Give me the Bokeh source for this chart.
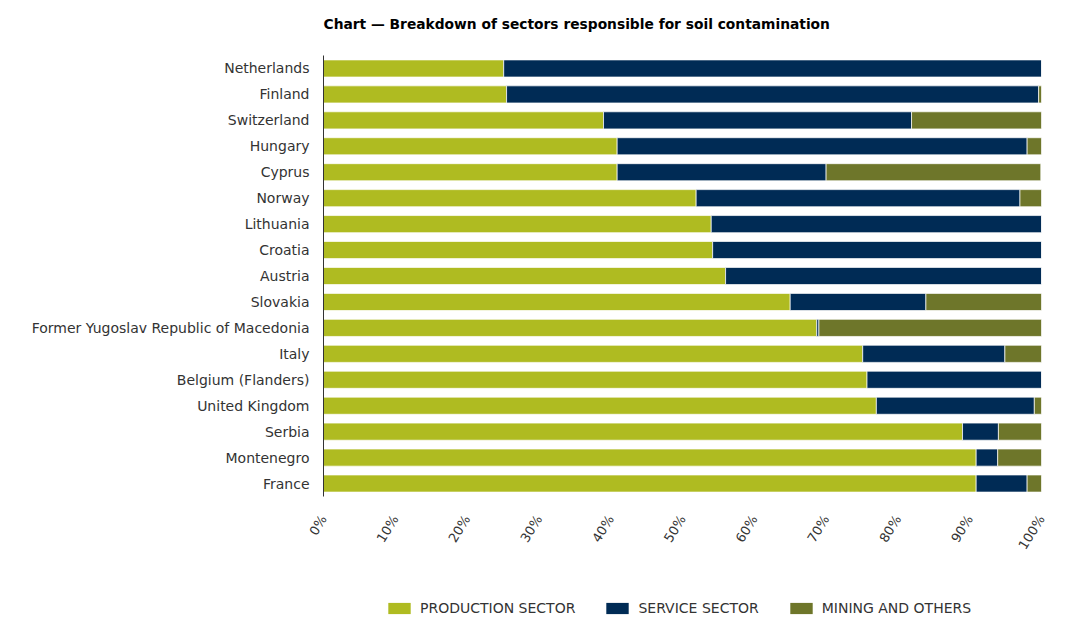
from bokeh.plotting import figure
from bokeh.models import FactorRange, Range1d, FixedTicker, Legend, LegendItem
from bokeh.layouts import column
from bokeh.embed import file_html
from bokeh.resources import INLINE
import math

countries = ["Netherlands", "Finland", "Switzerland", "Hungary", "Cyprus", "Norway",
             "Lithuania", "Croatia", "Austria", "Slovakia",
             "Former Yugoslav Republic of Macedonia", "Italy", "Belgium (Flanders)",
             "United Kingdom", "Serbia", "Montenegro", "France"]
production = [25.1, 25.5, 39.0, 40.9, 40.9, 51.9, 54.0, 54.2, 56.0, 65.0, 68.7, 75.1, 75.7, 77.0, 89.0, 90.9, 90.9]
service = [74.9, 74.1, 42.9, 57.1, 29.1, 45.1, 46.0, 45.8, 44.0, 18.9, 0.3, 19.8, 24.3, 22.0, 5.0, 3.0, 7.1]
mining = [0.0, 0.4, 18.1, 2.0, 29.9, 3.0, 0.0, 0.0, 0.0, 16.1, 31.1, 5.1, 0.0, 1.0, 6.0, 6.2, 2.0]
series_names = ["PRODUCTION SECTOR", "SERVICE SECTOR", "MINING AND OTHERS"]
colors = ["#afbb21", "#002b55", "#6e762a"]
ticks = [0, 10, 20, 30, 40, 50, 60, 70, 80, 90, 100]
tick_labels = [f"{t}%" for t in ticks]
title_text = "Chart \u2014 Breakdown of sectors responsible for soil contamination"

data = dict(country=countries, production=production, service=service, mining=mining)
stack_cols = ["production", "service", "mining"]

FONT = "DejaVu Sans"

# Header: carries only the title
hd = figure(width=1068, height=55, output_backend="svg", toolbar_location=None,
            x_axis_location=None, y_axis_location=None, min_border=0,
            x_range=Range1d(0, 1), y_range=Range1d(0, 1))
hd.outline_line_color = None
hd.xgrid.grid_line_color = None
hd.ygrid.grid_line_color = None
hd.title.text = title_text
hd.title.text_font = FONT
hd.title.text_font_size = "13.8px"
hd.title.text_font_style = "bold"
hd.title.text_color = "#000000"
hd.title.align = "left"
hd.title.standoff = 26

p = figure(width=1068, height=504, output_backend="svg", toolbar_location=None, title=None,
           y_range=FactorRange(factors=list(reversed(countries)), range_padding=0),
           x_range=Range1d(0, 100),
           min_border_left=323, min_border_right=27, min_border_top=0, min_border_bottom=63)

p.hbar_stack(stack_cols, y="country", height=0.66, color=colors, source=data,
             line_color="white", line_width=1, line_alpha=0.7)

p.xgrid.grid_line_color = None
p.ygrid.grid_line_color = None
p.outline_line_color = None

xa = p.xaxis[0]
xa.ticker = FixedTicker(ticks=ticks)
xa.major_label_overrides = {t: l for t, l in zip(ticks, tick_labels)}
xa.axis_line_color = None
xa.major_tick_line_color = None
xa.minor_tick_line_color = None
xa.major_label_orientation = math.radians(58)
xa.major_label_text_font = FONT
xa.major_label_text_font_size = "13px"
xa.major_label_text_color = "#333333"
xa.major_label_standoff = 14

ya = p.yaxis[0]
ya.axis_line_color = "#333333"
ya.major_tick_line_color = None
ya.minor_tick_line_color = None
ya.major_label_text_font = FONT
ya.major_label_text_font_size = "14px"
ya.major_label_text_color = "#333333"
ya.major_label_standoff = 8

# Legend panel: a second figure whose zero-height bars draw nothing, carrying only the legend
lg = figure(width=1068, height=57, output_backend="svg", toolbar_location=None,
            y_range=FactorRange(factors=list(reversed(countries))),
            x_range=Range1d(1000, 1001), x_axis_location=None, y_axis_location=None,
            min_border=0)
lg.outline_line_color = None
lg.xgrid.grid_line_color = None
lg.ygrid.grid_line_color = None
lg_renderers = lg.hbar_stack(stack_cols, y="country", height=0, color=colors, source=data,
                             line_color=None)

legend = Legend(items=[LegendItem(label=n, renderers=[r]) for n, r in zip(series_names, lg_renderers)],
                orientation="horizontal", location=(62, 0),
                glyph_width=28, glyph_height=14, label_standoff=7, spacing=28,
                label_text_font=FONT, label_text_font_size="14px",
                label_text_color="#333333", border_line_color=None,
                background_fill_alpha=0, margin=0, padding=0)
lg.add_layout(legend, "center")

open("out.html", "w").write(file_html(column(hd, p, lg, spacing=0), INLINE))
